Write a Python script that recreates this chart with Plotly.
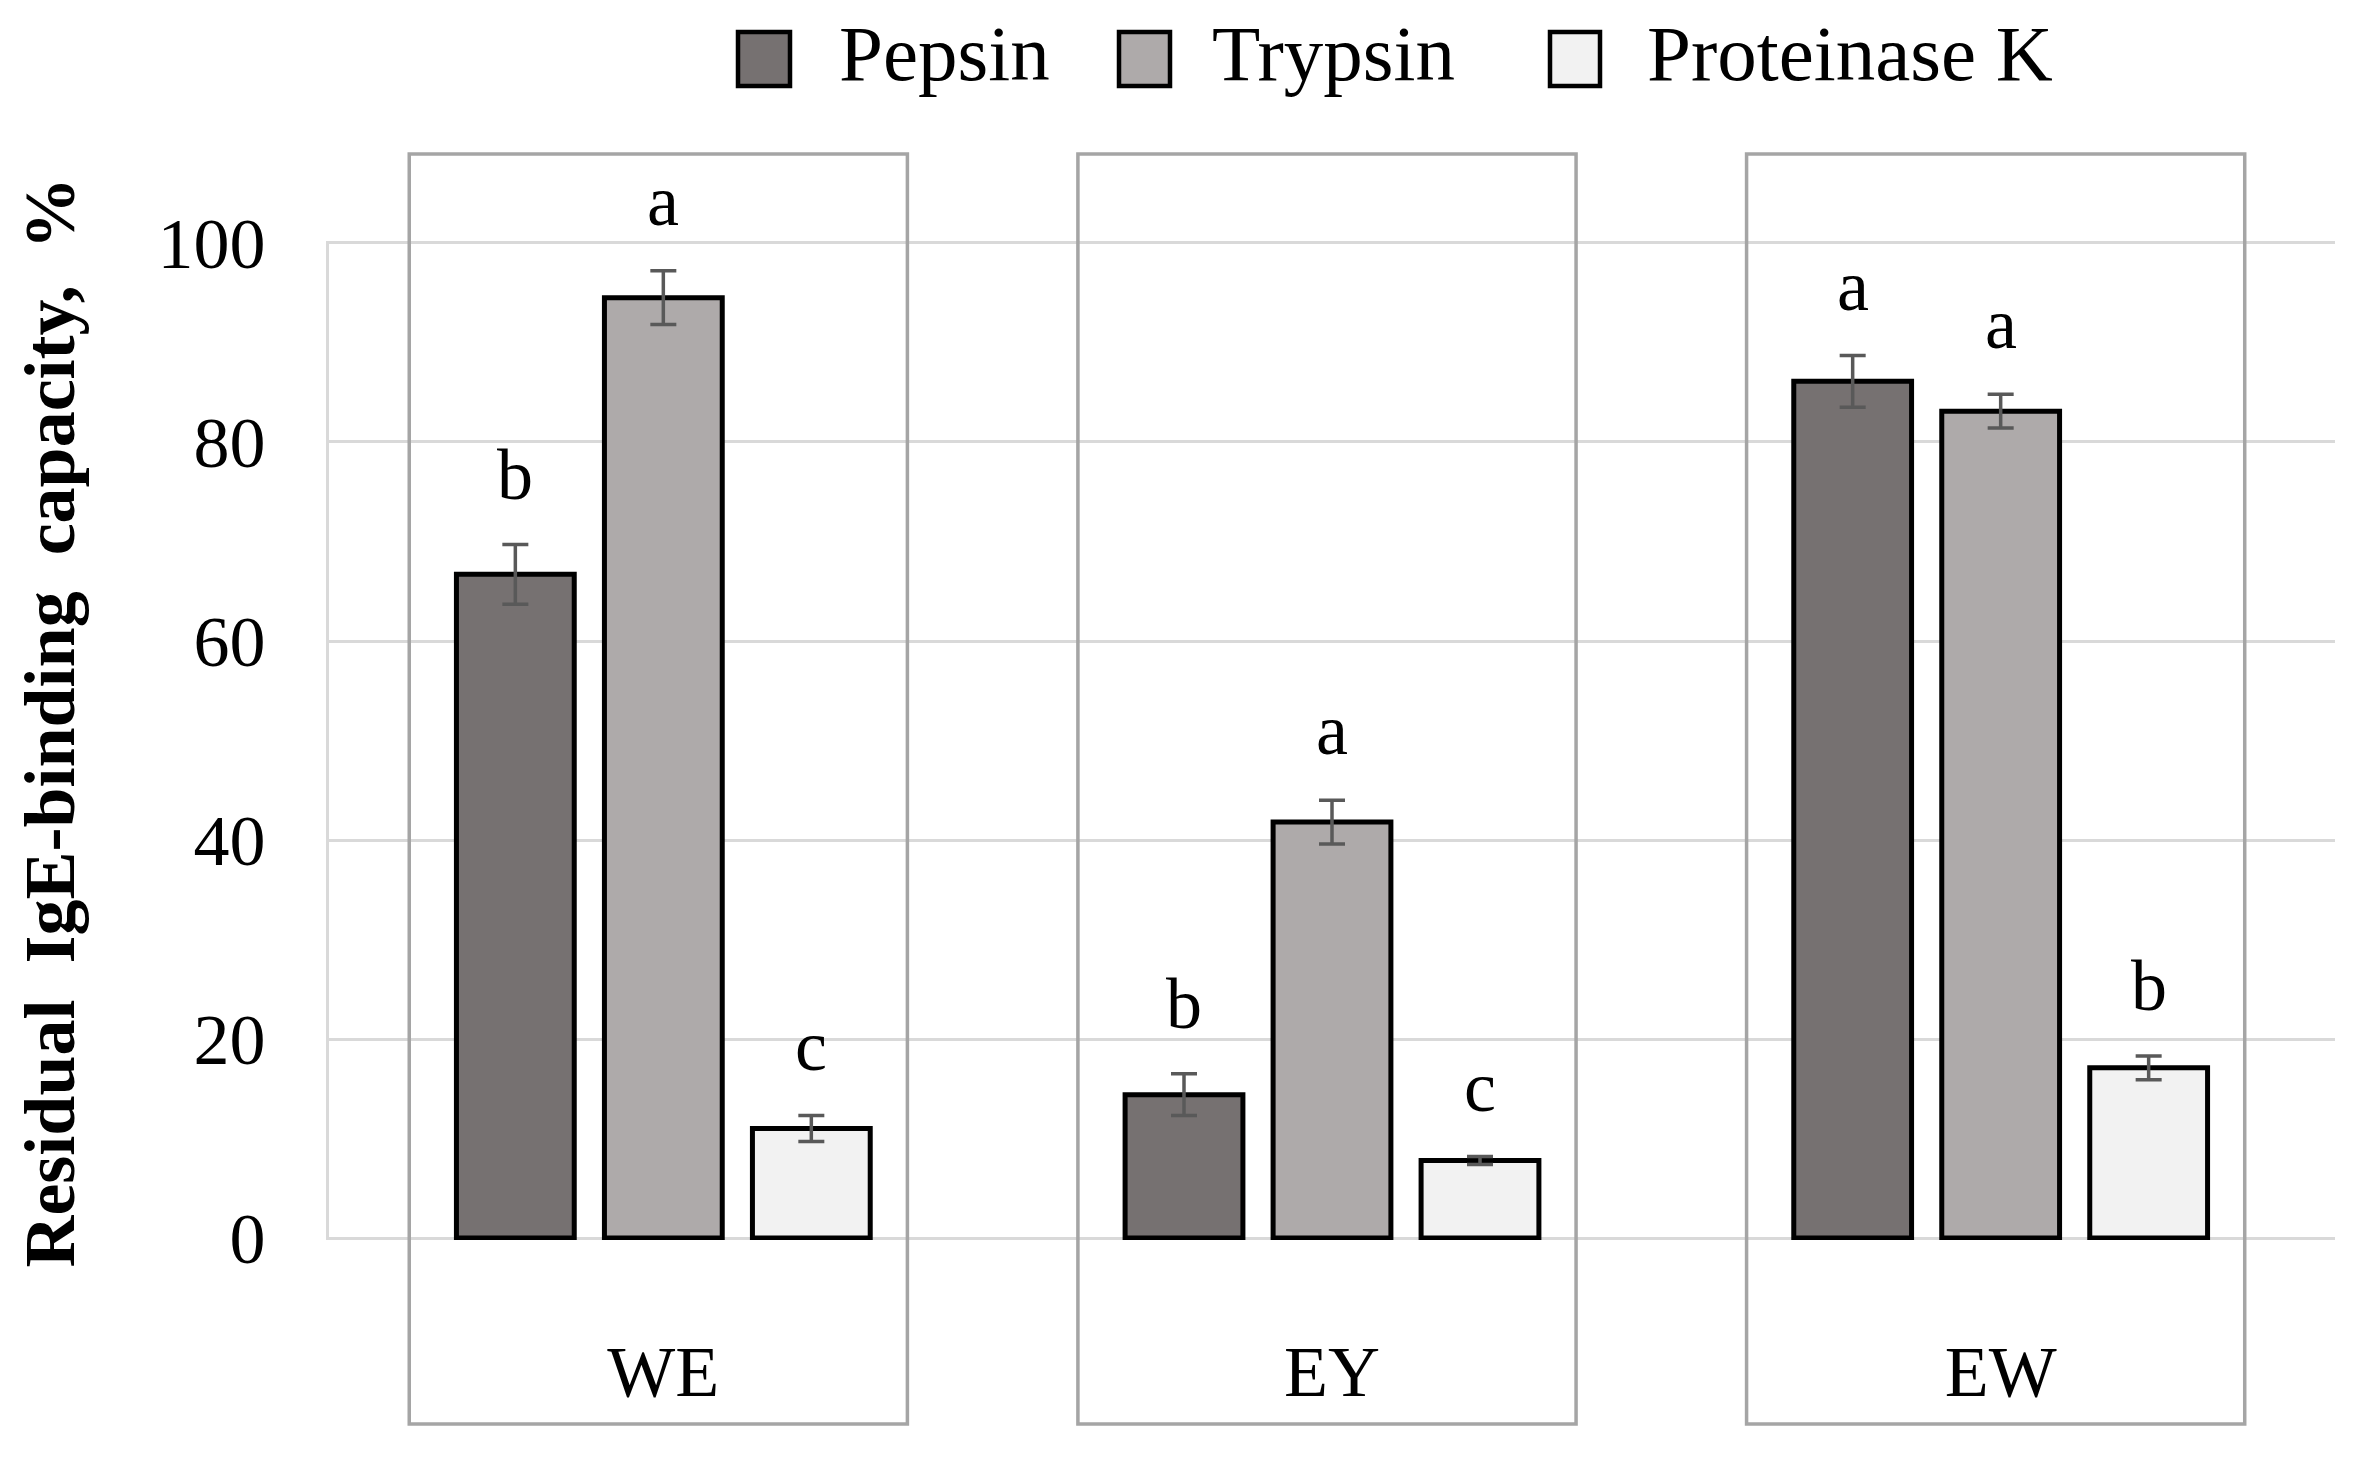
import plotly.graph_objects as go

# ---- data ----
categories = ["WE", "EY", "EW"]
series_names = ["Pepsin", "Trypsin", "Proteinase K"]
pepsin = [66.7, 14.4, 86.1]
trypsin = [94.5, 41.8, 83.1]
proteinase_k = [11.0, 7.8, 17.1]
pepsin_err = [3.0, 2.1, 2.6]
trypsin_err = [2.7, 2.2, 1.7]
proteinase_k_err = [1.3, 0.4, 1.2]
pepsin_letters = ["b", "b", "a"]
trypsin_letters = ["a", "a", "a"]
proteinase_k_letters = ["c", "c", "b"]
y_ticks = [0, 20, 40, 60, 80, 100]

values = [pepsin, trypsin, proteinase_k]
errors = [pepsin_err, trypsin_err, proteinase_k_err]
letters = [pepsin_letters, trypsin_letters, proteinase_k_letters]
colors = ["#767171", "#AEAAAA", "#F2F2F2"]

FONT = "Liberation Serif"
OFF = 8  # default page body margin
W, H = 2365 - 2 * OFF, 1457 - 2 * OFF
PW, PH = 2006, 999
ML, MT = 329 - OFF, 241 - OFF
MR, MB = W - ML - PW, H - MT - PH
BARGAP = 0.336
GROUPGAP = 0.204

fig = go.Figure()
for name, vals, errs, col in zip(series_names, values, errors, colors):
    fig.add_trace(go.Bar(
        name=name, x=categories, y=vals,
        marker=dict(color=col, line=dict(color="black", width=5)),
        error_y=dict(type="data", array=errs, visible=True,
                     color="#595959", thickness=3.5, width=13),
        showlegend=False,
    ))

# significance letters above error bars
slot = (1 - BARGAP) / 3
annotations = []
for j, (vals, errs, lets) in enumerate(zip(values, errors, letters)):
    for i, (v, e, t) in enumerate(zip(vals, errs, lets)):
        annotations.append(dict(
            x=i + (j - 1) * slot, y=v + e + 2.8, xref="x", yref="y",
            text=t, showarrow=False, yanchor="bottom",
            font=dict(family=FONT, size=72, color="black")))

# convert reference-page pixel positions to paper coordinates
def px_x(p):
    return (p - OFF - ML) / PW

def px_y(p):
    return (MT + PH - (p - OFF)) / PH

# legend drawn manually (large square swatches)
shapes = []
legend_boxes = [(738, 790, 837), (1119, 1170, 1210), (1550, 1600, 1645)]
for (x0, x1, tx), name, col in zip(legend_boxes, series_names, colors):
    shapes.append(dict(type="rect", xref="paper", yref="paper",
                       x0=px_x(x0), x1=px_x(x1), y0=px_y(86), y1=px_y(32),
                       line=dict(color="black", width=4.5), fillcolor=col))
    annotations.append(dict(x=px_x(tx), y=px_y(53), xref="paper", yref="paper",
                            text=name, showarrow=False, xanchor="left",
                            yanchor="middle",
                            font=dict(family=FONT, size=79, color="black")))

# category frames
for i in range(len(categories)):
    shapes.append(dict(type="rect", xref="paper", yref="paper",
                       x0=(i - 0.38 + 0.5) / 3, x1=(i + 0.365 + 0.5) / 3,
                       y0=px_y(1424), y1=px_y(154),
                       line=dict(color="#A5A5A5", width=3.5),
                       fillcolor="rgba(0,0,0,0)", layer="above"))

fig.update_layout(
    width=W, height=H,
    margin=dict(l=ML, r=MR, t=MT, b=MB),
    paper_bgcolor="white", plot_bgcolor="white",
    barmode="group", bargap=BARGAP, bargroupgap=GROUPGAP,
    font=dict(family=FONT, size=72, color="black"),
    annotations=annotations, shapes=shapes,
    showlegend=False,
)
fig.update_xaxes(
    type="category", showgrid=False, showline=False, zeroline=False,
    ticks="", ticklabelstandoff=83,
    tickfont=dict(family=FONT, size=72, color="black"),
)
fig.update_yaxes(
    range=[-0.2, 100.2], tickvals=y_ticks, showgrid=True,
    gridcolor="#D9D9D9", gridwidth=3, zeroline=False,
    showline=True, linecolor="#D9D9D9", linewidth=3,
    ticks="", ticklabelstandoff=46,
    tickfont=dict(family=FONT, size=72, color="black"),
    title=dict(text="&nbsp;&nbsp;<b>Residual &nbsp;IgE-binding &nbsp;capacity, &nbsp;%</b>",
               standoff=60,
               font=dict(family=FONT, size=72, color="black")),
)

fig.write_html("out.html")
